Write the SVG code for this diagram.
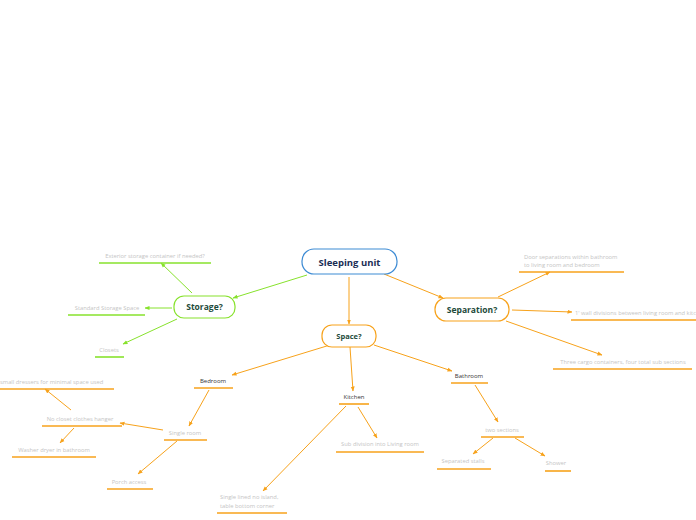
<svg xmlns="http://www.w3.org/2000/svg" width="696" height="520" viewBox="0 0 696 520">
<defs>
<marker id="ao" viewBox="0 0 10 10" refX="9" refY="5" markerWidth="5" markerHeight="5" orient="auto"><path d="M0,1 L10,5 L0,9 z" fill="#f7a21b"/></marker>
<marker id="ag" viewBox="0 0 10 10" refX="9" refY="5" markerWidth="5" markerHeight="5" orient="auto"><path d="M0,1 L10,5 L0,9 z" fill="#87e22c"/></marker>
</defs>
<style>
text{font-family:"Open Sans","Liberation Sans",sans-serif}
.main{font-size:9.5px;font-weight:bold;fill:#1b2e55}
.topic{font-size:8.5px;font-weight:bold;fill:#1d4a3a}
.sub{font-size:6px;fill:#333}
.leaf{font-size:5.8px;fill:#c4c4c4}
.co{stroke:#f7a21b;stroke-width:1;fill:none}
.cg{stroke:#87e22c;stroke-width:1;fill:none}
.uo{stroke:#f7a21b;stroke-width:1.6}
.ug{stroke:#87e22c;stroke-width:1.6}
</style>
<rect width="696" height="520" fill="#fff"/>
<g id="connectors">
<line class="cg" x1="307" y1="275" x2="233" y2="298" marker-end="url(#ag)"/>
<line class="co" x1="349" y1="277" x2="349" y2="324" marker-end="url(#ao)"/>
<line class="co" x1="384" y1="274" x2="443" y2="298" marker-end="url(#ao)"/>
<line class="cg" x1="192" y1="293" x2="161" y2="263" marker-end="url(#ag)"/>
<line class="cg" x1="172" y1="308" x2="145" y2="308" marker-end="url(#ag)"/>
<line class="cg" x1="177" y1="319" x2="123" y2="344" marker-end="url(#ag)"/>
<line class="co" x1="498" y1="297" x2="550" y2="272" marker-end="url(#ao)"/>
<line class="co" x1="512" y1="310" x2="572" y2="312" marker-end="url(#ao)"/>
<line class="co" x1="506" y1="321" x2="602" y2="355" marker-end="url(#ao)"/>
<line class="co" x1="330" y1="345" x2="232" y2="375" marker-end="url(#ao)"/>
<line class="co" x1="350" y1="347" x2="353" y2="391" marker-end="url(#ao)"/>
<line class="co" x1="374" y1="345" x2="452" y2="371" marker-end="url(#ao)"/>
<line class="co" x1="209" y1="390" x2="189" y2="426" marker-end="url(#ao)"/>
<line class="co" x1="163" y1="430" x2="120" y2="423" marker-end="url(#ao)"/>
<line class="co" x1="71" y1="410" x2="45" y2="389" marker-end="url(#ao)"/>
<line class="co" x1="74" y1="428" x2="60" y2="443" marker-end="url(#ao)"/>
<line class="co" x1="177" y1="441" x2="138" y2="474" marker-end="url(#ao)"/>
<line class="co" x1="346" y1="406" x2="263" y2="491" marker-end="url(#ao)"/>
<line class="co" x1="358" y1="407" x2="377" y2="438" marker-end="url(#ao)"/>
<line class="co" x1="475" y1="385" x2="498" y2="422" marker-end="url(#ao)"/>
<line class="co" x1="493" y1="438" x2="473" y2="454" marker-end="url(#ao)"/>
<line class="co" x1="515" y1="438" x2="545" y2="456" marker-end="url(#ao)"/>
</g>
<g id="sleeping-unit">
<rect x="302" y="249" width="95" height="25" rx="12" fill="#fff" stroke="#3d8bd4" stroke-width="1.2"/>
<text class="main" x="349.5" y="265.5" text-anchor="middle">Sleeping unit</text>
</g>
<g id="storage">
<rect x="174" y="296" width="61" height="22" rx="10" fill="#fff" stroke="#87e22c" stroke-width="1.2"/>
<text class="topic" x="204.5" y="310" text-anchor="middle">Storage?</text>
</g>
<g id="space">
<rect x="322" y="325" width="54" height="22" rx="10" fill="#fff" stroke="#f7a21b" stroke-width="1.2"/>
<text class="topic" x="349" y="339" text-anchor="middle" style="font-size:7.5px">Space?</text>
</g>
<g id="separation">
<rect x="435" y="298" width="74" height="23" rx="11" fill="#fff" stroke="#f7a21b" stroke-width="1.2"/>
<text class="topic" x="472" y="312.5" text-anchor="middle">Separation?</text>
</g>
<g id="exterior">
<text class="leaf" x="155" y="258" text-anchor="middle">Exterior storage container if needed?</text>
<line class="ug" x1="99" y1="263" x2="211" y2="263"/>
</g>
<g id="standard">
<text class="leaf" x="107" y="310" text-anchor="middle">Standard Storage Space</text>
<line class="ug" x1="68" y1="315" x2="145" y2="315"/>
</g>
<g id="closets">
<text class="leaf" x="109" y="352" text-anchor="middle">Closets</text>
<line class="ug" x1="95" y1="357" x2="124" y2="357"/>
</g>
<g id="door">
<text class="leaf" x="524" y="259">Door separations within bathroom</text>
<text class="leaf" x="524" y="267"> to living room and bedroom</text>
<line class="uo" x1="519" y1="272" x2="624" y2="272"/>
</g>
<g id="wall">
<text class="leaf" x="575" y="314.5">1' wall divisions between living room and kitchen</text>
<line class="uo" x1="571" y1="320" x2="697" y2="320"/>
</g>
<g id="three">
<text class="leaf" x="623" y="364" text-anchor="middle">Three cargo containers, four total sub sections</text>
<line class="uo" x1="553" y1="369" x2="692" y2="369"/>
</g>
<g id="bedroom">
<text class="sub" x="213" y="383" text-anchor="middle">Bedroom</text>
<line class="uo" x1="194" y1="388" x2="233" y2="388"/>
</g>
<g id="kitchen">
<text class="sub" x="354" y="399" text-anchor="middle">Kitchen</text>
<line class="uo" x1="339" y1="404" x2="369" y2="404"/>
</g>
<g id="bathroom">
<text class="sub" x="469" y="378" text-anchor="middle">Bathroom</text>
<line class="uo" x1="451" y1="383" x2="488" y2="383"/>
</g>
<g id="single-room">
<text class="leaf" x="185" y="435" text-anchor="middle">Single room</text>
<line class="uo" x1="164" y1="440" x2="207" y2="440"/>
</g>
<g id="no-closet">
<text class="leaf" x="80" y="421" text-anchor="middle">No closet clothes hanger</text>
<line class="uo" x1="42" y1="426" x2="122" y2="426"/>
</g>
<g id="dressers">
<text class="leaf" x="0" y="384">small dressers for minimal space used</text>
<line class="uo" x1="0" y1="389" x2="114" y2="389"/>
</g>
<g id="washer">
<text class="leaf" x="54" y="452" text-anchor="middle">Washer dryer in bathroom</text>
<line class="uo" x1="12" y1="457" x2="96" y2="457"/>
</g>
<g id="porch">
<text class="leaf" x="129" y="484" text-anchor="middle">Porch access</text>
<line class="uo" x1="107" y1="489" x2="153" y2="489"/>
</g>
<g id="single-lined">
<text class="leaf" x="220" y="499">Single lined no island,</text>
<text class="leaf" x="220" y="508">table bottom corner</text>
<line class="uo" x1="217" y1="513" x2="287" y2="513"/>
</g>
<g id="subdivision">
<text class="leaf" x="380" y="446" text-anchor="middle">Sub division into Living room</text>
<line class="uo" x1="336" y1="452" x2="424" y2="452"/>
</g>
<g id="two-sections">
<text class="leaf" x="502" y="432" text-anchor="middle">two sections</text>
<line class="uo" x1="481" y1="437" x2="524" y2="437"/>
</g>
<g id="stalls">
<text class="leaf" x="463" y="463" text-anchor="middle">Separated stalls</text>
<line class="uo" x1="437" y1="469" x2="491" y2="469"/>
</g>
<g id="shower">
<text class="leaf" x="556" y="465" text-anchor="middle">Shower</text>
<line class="uo" x1="545" y1="471" x2="571" y2="471"/>
</g>
</svg>
